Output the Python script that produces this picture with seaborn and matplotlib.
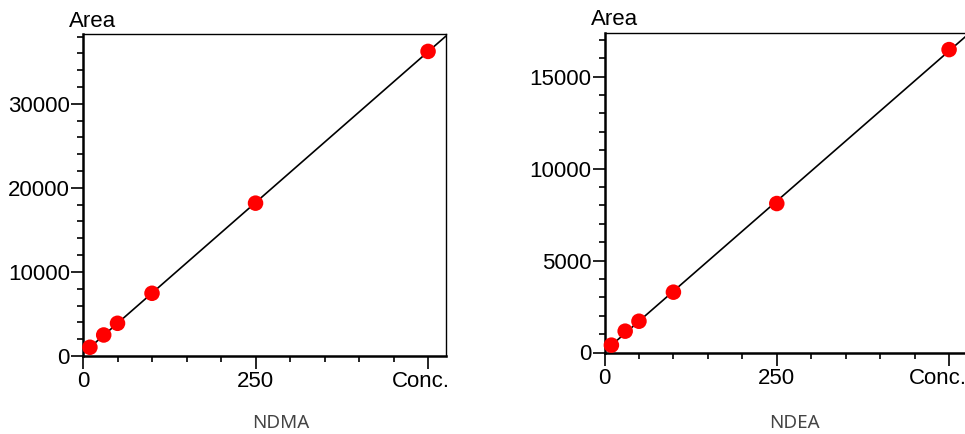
import matplotlib
matplotlib.use('Agg')
import matplotlib.pyplot as plt
import matplotlib.transforms as mtransforms
import seaborn as sns
import pandas as pd
import numpy as np
from matplotlib.ticker import MultipleLocator, FixedLocator

# calibration data
conc = [10, 30, 50, 100, 250, 500]
ndma_area = [1040, 2500, 3890, 7460, 18180, 36230]
ndea_area = [400, 1160, 1700, 3280, 8100, 16470]

panels = [
    ('NDMA', ndma_area, 38300, 10000, 2000),
    ('NDEA', ndea_area, 17400, 5000, 1000),
]
x_max = 526
x_ticks = [0, 250, 500]
x_ticklabels = ['0', '250', 'Conc.']

sns.set_style('white')
plt.rcParams['font.family'] = ['Liberation Sans', 'DejaVu Sans']
plt.rcParams['text.color'] = 'black'

fig = plt.figure(figsize=(9.65, 4.34), dpi=100)
W, H = 965, 434
boxes = [(83, 34, 446, 356), (604.5, 32.5, 967, 352.5)]
name_x = [281, 794]
conc_shift = [-7, -11]  # px, "Conc." sits left of its tick

for (name, area, y_max, y_major, y_minor), (l, t, r, b), nx, sh in zip(panels, boxes, name_x, conc_shift):
    ax = fig.add_axes([l / W, 1 - b / H, (r - l) / W, (b - t) / H])
    df = pd.DataFrame({'conc': conc, 'area': area})
    ax.set_xlim(0, x_max)
    ax.set_ylim(0, y_max)
    sns.regplot(data=df, x='conc', y='area', ax=ax, scatter=False, ci=None,
                truncate=False, line_kws={'color': 'black', 'lw': 1.2})
    sns.scatterplot(data=df, x='conc', y='area', ax=ax, color='#ff0000', s=125,
                    edgecolor='none', zorder=5, clip_on=False)
    ax.set_xlim(0, x_max)
    ax.set_ylim(0, y_max)
    ax.set_xlabel('')
    ax.set_ylabel('')
    ax.xaxis.set_major_locator(FixedLocator(x_ticks))
    ax.set_xticklabels(x_ticklabels)
    ax.xaxis.set_minor_locator(MultipleLocator(50))
    ax.yaxis.set_major_locator(MultipleLocator(y_major))
    ax.yaxis.set_minor_locator(MultipleLocator(y_minor))
    ax.tick_params(which='major', direction='out', length=9, width=1.2,
                   labelsize=16, color='black', labelcolor='black')
    ax.tick_params(which='minor', direction='out', length=4.5, width=1.2, color='black')
    ax.tick_params(axis='y', which='both', left=True, pad=0.5)
    ax.tick_params(axis='x', which='both', bottom=True, pad=2)
    conc_lab = ax.get_xticklabels()[-1]
    conc_lab.set_transform(conc_lab.get_transform() +
                           mtransforms.ScaledTranslation(sh / 100, 0, fig.dpi_scale_trans))
    for side in ['left', 'bottom']:
        ax.spines[side].set_linewidth(1.8)
        ax.spines[side].set_color('black')
    for side in ['top', 'right']:
        ax.spines[side].set_linewidth(1.0)
        ax.spines[side].set_color('black')
    ax.annotate('Area', xy=(0, 1), xycoords='axes fraction', xytext=(-10, 1.5),
                textcoords='offset points', ha='left', va='bottom', fontsize=16,
                color='black')
    fig.text(nx / W, 1 - 423 / H, name, ha='center', va='center',
             fontsize=13.5, color='#444444', family=['Noto Sans', 'DejaVu Sans'])

fig.savefig('out.png', dpi=100)
